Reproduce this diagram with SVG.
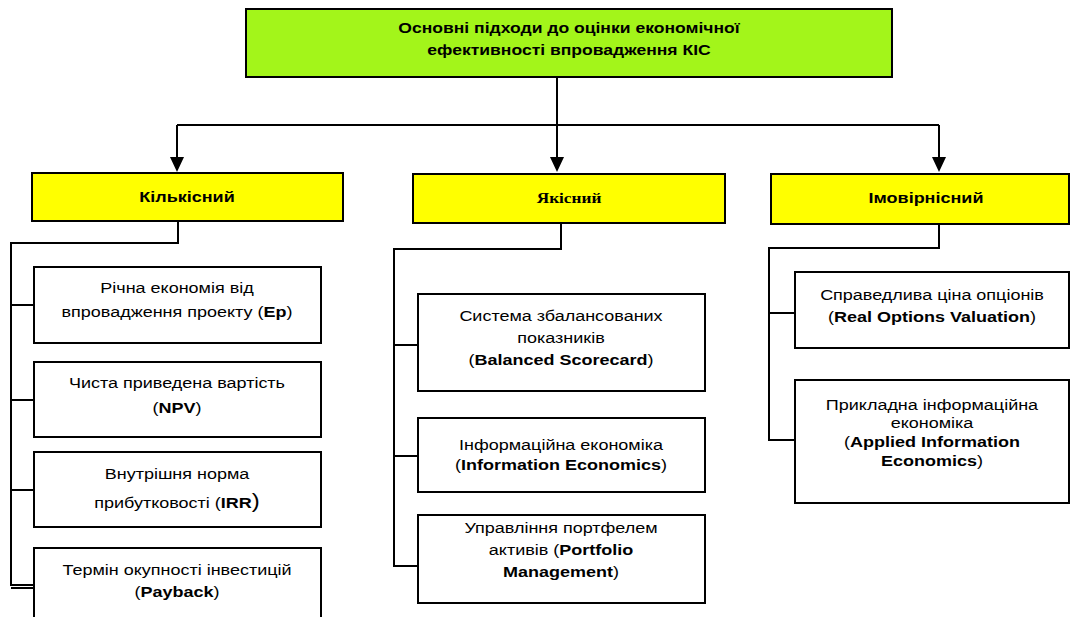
<svg xmlns="http://www.w3.org/2000/svg" width="1072" height="617" viewBox="0 0 1072 617">
<defs>
<style>
.box{fill:#fff;stroke:#000;stroke-width:2}
.top{fill:#a3f51a;stroke:#000;stroke-width:2}
.cat{fill:#ffff00;stroke:#000;stroke-width:2}
.ln{fill:none;stroke:#000;stroke-width:2}
text{font-family:"Liberation Sans",Arial,sans-serif;font-size:15px;fill:#000;text-anchor:middle}
.b{font-weight:bold}
.serif{font-family:"Liberation Serif","Times New Roman",serif}
</style>
</defs>
<rect width="1072" height="617" fill="#fff"/>
<g id="connectors">
<path class="ln" d="M557,77 V125"/>
<path class="ln" d="M177,125 H939"/>
<path d="M177,125 V158" class="ln"/>
<path d="M557,125 V158" class="ln"/>
<path d="M939,125 V158" class="ln"/>
<path d="M170,157 L184,157 L177,172 z" fill="#000"/>
<path d="M550,157 L564,157 L557,172 z" fill="#000"/>
<path d="M932,157 L946,157 L939,172 z" fill="#000"/>
<path class="ln" d="M178,221 V243 H11 V585 H34"/>
<path class="ln" d="M11,305 H34 M11,400 H34 M11,490 H34 M11,588 H34"/>
<path class="ln" d="M561,223 V249 H394 V566 H418"/>
<path class="ln" d="M394,345 H418 M394,456 H418"/>
<path class="ln" d="M939,224 V248 H769 V440 H795"/>
<path class="ln" d="M769,313 H795"/>
</g>
<g id="root">
<rect class="top" x="246" y="9" width="646" height="68"/>
<text class="b" font-size="16" transform="translate(569,33) scale(1.17,1)"><tspan x="0" y="0">Основні підходи до оцінки економічної</tspan><tspan x="0" y="22">ефективності впровадження КІС</tspan></text>
</g>
<g id="cat-quant">
<rect class="cat" x="32" y="173" width="311" height="48"/>
<text class="b" transform="translate(187,202) scale(1.2,1)">Кількісний</text>
</g>
<g id="cat-qual">
<rect class="cat" x="413" y="174" width="312" height="49"/>
<text class="b serif" font-size="16" transform="translate(569,203) scale(1.15,1)">Якісний</text>
</g>
<g id="cat-prob">
<rect class="cat" x="771" y="174" width="298" height="50"/>
<text class="b" transform="translate(926,203) scale(1.2,1)">Імовірнісний</text>
</g>
<g id="q1">
<rect class="box" x="34" y="267" width="287" height="76"/>
<text transform="translate(177,293) scale(1.2,1)"><tspan x="0" y="0">Річна економія від</tspan><tspan x="0" y="24">впровадження проекту (<tspan class="b">Ep</tspan>)</tspan></text>
</g>
<g id="q2">
<rect class="box" x="34" y="362" width="287" height="75"/>
<text transform="translate(177,388) scale(1.2,1)"><tspan x="0" y="0">Чиста приведена вартість</tspan><tspan x="0" y="25">(<tspan class="b">NPV</tspan>)</tspan></text>
</g>
<g id="q3">
<rect class="box" x="34" y="452" width="287" height="75"/>
<text transform="translate(177,479) scale(1.2,1)"><tspan x="0" y="0">Внутрішня норма</tspan><tspan x="0" y="29">прибутковості (<tspan class="b">IRR</tspan><tspan font-size="20">)</tspan></tspan></text>
</g>
<g id="q4">
<path class="ln" d="M34,620 V548 H321 V620"/>
<text transform="translate(177,575) scale(1.2,1)"><tspan x="0" y="0">Термін окупності інвестицій</tspan><tspan x="0" y="22">(<tspan class="b">Payback</tspan>)</tspan></text>
</g>
<g id="l1">
<rect class="box" x="418" y="294" width="287" height="97"/>
<text transform="translate(561,321) scale(1.2,1)"><tspan x="0" y="0">Система збалансованих</tspan><tspan x="0" y="22">показників</tspan><tspan x="0" y="44">(<tspan class="b">Balanced Scorecard</tspan>)</tspan></text>
</g>
<g id="l2">
<rect class="box" x="418" y="418" width="287" height="74"/>
<text transform="translate(561,450) scale(1.2,1)"><tspan x="0" y="0">Інформаційна економіка</tspan><tspan x="0" y="20">(<tspan class="b">Information Economics</tspan>)</tspan></text>
</g>
<g id="l3">
<rect class="box" x="418" y="515" width="287" height="88"/>
<text transform="translate(561,533) scale(1.2,1)"><tspan x="0" y="0">Управління портфелем</tspan><tspan x="0" y="22">активів (<tspan class="b">Portfolio</tspan></tspan><tspan x="0" y="44"><tspan class="b">Management</tspan>)</tspan></text>
</g>
<g id="p1">
<rect class="box" x="795" y="272" width="274" height="76"/>
<text transform="translate(932,300) scale(1.2,1)"><tspan x="0" y="0">Справедлива ціна опціонів</tspan><tspan x="0" y="22">(<tspan class="b">Real Options Valuation</tspan>)</tspan></text>
</g>
<g id="p2">
<rect class="box" x="795" y="380" width="274" height="123"/>
<text transform="translate(932,410) scale(1.2,1)"><tspan x="0" y="0">Прикладна інформаційна</tspan><tspan x="0" y="18">економіка</tspan><tspan x="0" y="37">(<tspan class="b">Applied Information</tspan></tspan><tspan x="0" y="56"><tspan class="b">Economics</tspan>)</tspan></text>
</g>
</svg>
